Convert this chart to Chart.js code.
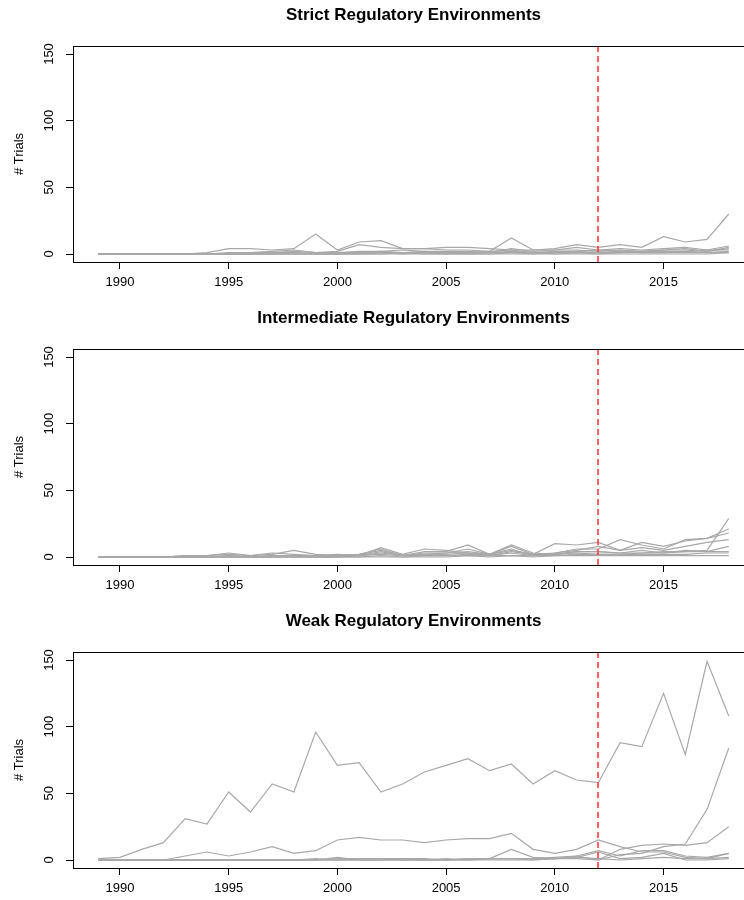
<!DOCTYPE html>
<html>
<head>
<meta charset="utf-8">
<script src="https://cdn.jsdelivr.net/npm/chart.js@4.4.1/dist/chart.umd.min.js"></script>
<style>
  html, body { margin: 0; padding: 0; background: #fff; }
  #wrap { position: relative; width: 744px; height: 900px; overflow: hidden; }
  canvas { position: absolute; left: 0; }
</style>
</head>
<body>
<div id="wrap">
  <canvas id="chart-strict" width="760" height="300" style="top:0px"></canvas>
  <canvas id="chart-intermediate" width="760" height="300" style="top:303px"></canvas>
  <canvas id="chart-weak" width="760" height="300" style="top:606px"></canvas>
</div>
<script>
// ================== Data (trials per year, 1989-2018) ==================
const years = [1989, 1990, 1991, 1992, 1993, 1994, 1995, 1996, 1997, 1998,
  1999, 2000, 2001, 2002, 2003, 2004, 2005, 2006, 2007, 2008,
  2009, 2010, 2011, 2012, 2013, 2014, 2015, 2016, 2017, 2018];
const xTicks = [1990, 1995, 2000, 2005, 2010, 2015];
const yTicks = [0, 50, 100, 150];
const cutoffYear = 2012;
const panelTitles = ['Strict Regulatory Environments', 'Intermediate Regulatory Environments', 'Weak Regulatory Environments'];

const strict = [
  [0,0,0,0,0,1,4,4,3,4,15,3,9,10,4,4,3,3,2,12,3,4,7,5,7,5,13,9,11,30],
  [0,0,0,0,0,0,1,1,2,3,1,2,7,5,4,4,5,5,4,3,3,3,5,3,4,3,4,5,3,6],
  [0,0,0,0,0,0,0,1,1,2,1,1,2,2,3,2,2,2,1,4,2,3,3,2,3,2,3,4,2,5],
  [0,0,0,0,0,0,0,0,1,1,0,1,1,2,1,2,1,1,2,3,1,2,2,3,2,2,3,3,2,4],
  [0,0,0,0,0,0,0,0,0,1,0,0,1,1,1,1,0,1,1,2,1,1,2,1,1,2,2,2,3,3],
  [0,0,0,0,0,0,0,0,0,0,0,0,0,1,0,1,1,0,1,1,0,1,1,1,2,1,1,2,1,2],
  [0,0,0,0,0,0,0,0,0,0,0,0,0,0,1,0,0,0,0,1,1,0,1,0,1,1,1,1,1,1],
  [0,0,0,0,0,0,0,0,0,0,0,0,0,0,0,0,0,0,0,0,0,0,0,0,0,0,0,0,0,1]
];

const intermediate = [
  [0,0,0,0,1,1,3,1,2,5,2,1,2,5,1,2,3,4,2,9,3,2,4,4,3,3,3,4,5,29],
  [0,0,0,0,0,1,2,1,3,2,1,2,1,7,2,6,5,3,2,6,1,3,6,6,13,9,6,13,14,21],
  [0,0,0,0,1,0,1,0,1,1,1,1,2,6,1,4,4,9,2,8,2,10,9,11,5,11,8,12,14,18],
  [0,0,0,0,0,0,1,0,1,1,0,0,1,4,1,3,3,6,2,5,2,3,5,8,5,7,5,8,11,13],
  [0,0,0,0,0,0,0,0,0,1,0,1,1,3,1,2,2,3,1,4,2,2,4,4,3,5,3,5,4,8],
  [0,0,0,0,0,0,0,0,0,0,0,0,1,2,1,1,1,2,1,3,1,2,3,2,2,3,4,4,4,4],
  [0,0,0,0,0,0,0,0,0,0,0,0,0,1,0,1,1,1,1,1,1,1,2,2,2,2,2,2,3,3],
  [0,0,0,0,0,0,0,0,0,0,0,0,0,0,0,0,0,1,0,1,0,1,1,1,1,1,1,1,1,1]
];

const weak = [
  [1,2,8,13,31,27,51,36,57,51,96,71,73,51,57,66,71,76,67,72,57,67,60,58,88,85,125,79,149,108],
  [0,0,0,0,3,6,3,6,10,5,7,15,17,15,15,13,15,16,16,20,8,5,8,15,10,6,6,2,1,5],
  [0,0,0,0,0,0,0,0,0,0,0,1,1,1,1,1,0,1,1,1,1,2,3,0,8,11,12,11,13,25],
  [0,0,0,0,0,0,0,0,0,0,0,0,0,0,0,0,0,0,1,1,1,1,1,0,4,5,10,12,38,84],
  [0,0,0,0,0,0,0,0,0,0,1,0,0,0,0,0,0,1,1,8,2,1,3,7,3,7,7,3,2,5],
  [0,0,0,0,0,0,0,0,0,0,0,2,0,0,1,0,0,0,1,1,0,1,2,6,1,2,5,0,0,1],
  [0,0,0,0,0,0,0,0,0,0,0,0,1,1,0,0,1,0,0,0,0,1,2,1,0,1,2,1,1,2]
];

const FONT = "'Liberation Sans', Arial, Helvetica, sans-serif";

// ================== Plugins ==================
// R-style box around the plot region
const FramePlugin = {
  id: 'frame',
  afterDraw(chart) {
    const { ctx, chartArea: a } = chart;
    const l = Math.round(a.left) + 0.5, t = Math.round(a.top) + 0.5;
    const r = Math.round(a.right) + 0.5, b = Math.round(a.bottom) + 0.5;
    ctx.save();
    ctx.strokeStyle = '#000';
    ctx.lineWidth = 1;
    ctx.strokeRect(l, t, r - l, b - t);
    ctx.restore();
  }
};

// dashed red vertical line at the cutoff year
const CutoffPlugin = {
  id: 'cutoff',
  afterDatasetsDraw(chart, args, opts) {
    const { ctx, chartArea: a, scales: { x } } = chart;
    const xp = Math.round(x.getPixelForValue(opts.year));
    ctx.save();
    ctx.strokeStyle = '#ff3030';
    ctx.lineWidth = 1.5;
    ctx.setLineDash([6, 4]);
    ctx.beginPath();
    ctx.moveTo(xp, a.top);
    ctx.lineTo(xp, a.bottom);
    ctx.stroke();
    ctx.restore();
  }
};

// ================== Charts ==================
function drawPanel(id, title, series) {
  new Chart(document.getElementById(id), {
    type: 'line',
    plugins: [FramePlugin, CutoffPlugin],
    data: {
      datasets: series.map(s => ({
        data: years.map((yr, i) => ({ x: yr, y: s[i] })),
        borderColor: '#a8a8a8',
        borderWidth: 1.2,
        pointRadius: 0,
        tension: 0
      }))
    },
    options: {
      responsive: false,
      animation: false,
      devicePixelRatio: 1,
      layout: { padding: { left: 0, right: 6, top: 0, bottom: 0 } },
      plugins: {
        legend: { display: false },
        tooltip: { enabled: false },
        title: {
          display: true, text: title, fullSize: false, color: '#000',
          font: { family: FONT, size: 17, weight: 'bold' },
          padding: { top: 5, bottom: 20.6 }
        },
        cutoff: { year: cutoffYear }
      },
      scales: {
        x: {
          type: 'linear', min: 1987.84, max: 2019.16,
          afterBuildTicks: s => { s.ticks = xTicks.map(v => ({ value: v })); },
          afterFit: s => { s.height = 38; s.paddingLeft = 0; s.paddingRight = 0; },
          grid: { display: true, drawOnChartArea: false, drawTicks: true, tickLength: 7, color: '#000' },
          border: { display: true, color: '#000' },
          ticks: {
            autoSkip: false, maxRotation: 0, minRotation: 0, padding: 6, color: '#000',
            font: { family: FONT, size: 13 }, callback: v => String(v)
          }
        },
        y: {
          min: -6, max: 156,
          afterBuildTicks: s => { s.ticks = yTicks.map(v => ({ value: v })); },
          afterFit: s => { s.width = 73; s.paddingTop = 0; s.paddingBottom = 0; },
          grid: { display: true, drawOnChartArea: false, drawTicks: true, tickLength: 7, color: '#000' },
          border: { display: true, color: '#000' },
          title: {
            display: true, text: '# Trials', color: '#000',
            font: { family: FONT, size: 13 }, padding: { top: 12, bottom: 0 }
          },
          ticks: {
            minRotation: 90, maxRotation: 90, crossAlign: 'center', padding: 6, color: '#000',
            font: { family: FONT, size: 13 }, callback: v => String(v)
          }
        }
      }
    }
  });
}

drawPanel('chart-strict', panelTitles[0], strict);
drawPanel('chart-intermediate', panelTitles[1], intermediate);
drawPanel('chart-weak', panelTitles[2], weak);
</script>
</body>
</html>
